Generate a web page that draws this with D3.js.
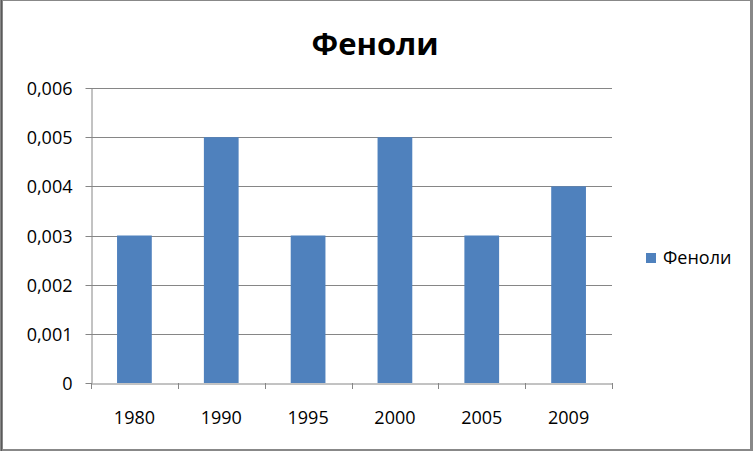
<!DOCTYPE html>
<html>
<head>
<meta charset="utf-8">
<script src="https://cdn.jsdelivr.net/npm/d3@7"></script>
<style>
html,body{margin:0;padding:0;background:#fff;}
svg{display:block;}
text{font-family:"Open Sans",sans-serif;}
</style>
</head>
<body>
<svg id="chart" width="753" height="451"></svg>
<script>
const categories = ["1980","1990","1995","2000","2005","2009"];
const values = [0.003, 0.005, 0.003, 0.005, 0.003, 0.004];
const yTicks = [0, 0.001, 0.002, 0.003, 0.004, 0.005, 0.006];
const seriesName = "Феноли";
const title = "Феноли";

const svg = d3.select("#chart");
const W = 753, H = 451;

// frame
svg.append("rect").attr("x",0).attr("y",0).attr("width",W).attr("height",H).attr("fill","#888888");
svg.append("rect").attr("x",1).attr("y",0).attr("width",1).attr("height",H).attr("fill","#5a5a5a");
svg.append("rect").attr("x",3).attr("y",1).attr("width",W-6).attr("height",H-3).attr("fill","#ffffff");

const pLeft = 91, pRight = 612, pTop = 88, pBottom = 383;
const x = d3.scaleBand().domain(categories).range([pLeft, pRight]).padding(0);
const y = d3.scaleLinear().domain([0, 0.006]).range([pBottom, pTop]);
const fmt = d => d === 0 ? "0" : d3.format(".3f")(d).replace(".", ",");

// gridlines
svg.append("g").selectAll("line").data(yTicks.filter(d => d > 0)).join("line")
  .attr("x1", pLeft).attr("x2", pRight)
  .attr("y1", d => Math.round(y(d)) + 0.5).attr("y2", d => Math.round(y(d)) + 0.5)
  .attr("stroke", "#868686").attr("stroke-width", 1);

// bars
const bw = x.bandwidth() * 0.4;
svg.append("g").selectAll("rect").data(values).join("rect")
  .attr("x", (d, i) => x(categories[i]) + (x.bandwidth() - bw) / 2)
  .attr("width", bw)
  .attr("y", d => y(d))
  .attr("height", d => pBottom - y(d))
  .attr("fill", "#4F81BD");

// y axis
const yAxis = svg.append("g").attr("transform", `translate(${pLeft + 0.5},0)`)
  .call(d3.axisLeft(y).tickValues(yTicks).tickFormat(fmt).tickSize(6).tickSizeOuter(0).tickPadding(13));
yAxis.select(".domain").attr("stroke", "#868686");
yAxis.selectAll(".tick line").attr("stroke", "#868686");
yAxis.selectAll(".tick").attr("transform", d => `translate(0,${Math.round(y(d)) + 0.5})`);
yAxis.selectAll("text").attr("font-size", 18).attr("fill", "#000").attr("font-family", "Open Sans").attr("dy", "0.36em");

// x axis
const xAxis = svg.append("g").attr("transform", `translate(0,${pBottom + 0.5})`)
  .call(d3.axisBottom(x).tickSize(0).tickPadding(28));
xAxis.select(".domain").attr("stroke", "#868686");
xAxis.selectAll("text").attr("font-size", 18).attr("fill", "#000").attr("font-family", "Open Sans");
// boundary ticks
const bounds = categories.map(c => x(c)).concat([pRight]);
svg.append("g").selectAll("line").data(bounds).join("line")
  .attr("x1", d => Math.round(d) + 0.5).attr("x2", d => Math.round(d) + 0.5)
  .attr("y1", pBottom).attr("y2", pBottom + 6)
  .attr("stroke", "#868686");

// title
svg.append("text").attr("x", 375).attr("y", 55).attr("text-anchor", "middle")
  .attr("font-size", 31).attr("font-weight", "bold").attr("fill", "#000").text(title);

// legend
svg.append("rect").attr("x", 646).attr("y", 253).attr("width", 10).attr("height", 10).attr("fill", "#4F81BD");
svg.append("text").attr("x", 663).attr("y", 264).attr("font-size", 18).attr("fill", "#000").text(seriesName);
</script>
</body>
</html>
